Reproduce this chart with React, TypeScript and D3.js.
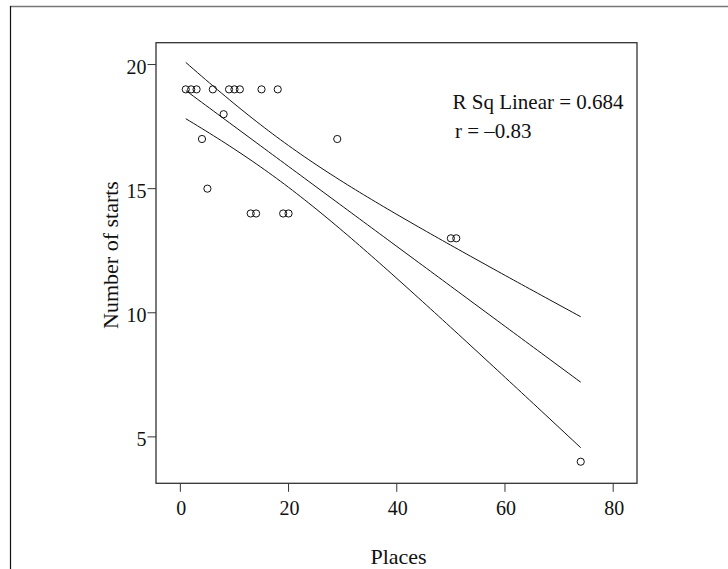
import React from "react";
import * as d3 from "d3";

const places = [1, 2, 3, 6, 9, 10, 11, 15, 18, 8, 4, 29, 5, 13, 14, 19, 20, 50, 51, 74];
const starts = [19, 19, 19, 19, 19, 19, 19, 19, 19, 18, 17, 17, 15, 14, 14, 14, 14, 13, 13, 4];
const xTicks = [0, 20, 40, 60, 80];
const yTicks = [5, 10, 15, 20];
const fitLabel = "R Sq Linear = 0.684";
const rLabel = "r = \u20130.83";
const xTitle = "Places";
const yTitle = "Number of starts";
const tCrit = 1.734; // 90% two-sided, df = 18

const W = 728;
const H = 569;
const FONT = "'Liberation Serif', 'Times New Roman', serif";

export default function App() {
  const x = d3.scaleLinear().domain([-4.5, 84.4]).range([156, 637]);
  const y = d3.scaleLinear().domain([3.13, 20.88]).range([483.3, 42.7]);

  const n = places.length;
  const mx = d3.mean(places) as number;
  const my = d3.mean(starts) as number;
  let sxx = 0, sxy = 0, syy = 0;
  for (let i = 0; i < n; i++) {
    sxx += (places[i] - mx) ** 2;
    sxy += (places[i] - mx) * (starts[i] - my);
    syy += (starts[i] - my) ** 2;
  }
  const b = sxy / sxx;
  const a = my - b * mx;
  const sse = syy - (sxy * sxy) / sxx;
  const s = Math.sqrt(sse / (n - 2));
  const xmin = d3.min(places) as number;
  const xmax = d3.max(places) as number;
  const xs = d3.range(0, 101).map((i) => xmin + ((xmax - xmin) * i) / 100);
  const fit = (v: number) => a + b * v;
  const half = (v: number) => tCrit * s * Math.sqrt(1 / n + (v - mx) ** 2 / sxx);

  const line = d3
    .line<number[]>()
    .x((d) => x(d[0]))
    .y((d) => y(d[1]));

  const mid = line(xs.map((v) => [v, fit(v)]))!;
  const up = line(xs.map((v) => [v, fit(v) + half(v)]))!;
  const lo = line(xs.map((v) => [v, fit(v) - half(v)]))!;

  const [x0, x1] = x.range();
  const [y0, y1] = y.range();

  return (
    <svg
      width={W}
      height={H}
      style={{ position: "absolute", left: 0, top: 0, background: "#fff" }}
      fontFamily={FONT}
    >
      <rect x={0} y={0} width={W} height={H} fill="#fff" />
      {/* outer frame */}
      <line x1={10} y1={6.5} x2={W} y2={6.5} stroke="#777" strokeWidth={1.5} />
      <line x1={10.5} y1={6} x2={10.5} y2={H} stroke="#111" strokeWidth={1.2} />

      {/* plot box */}
      <rect x={x0} y={y1} width={x1 - x0} height={y0 - y1} fill="none" stroke="#333" strokeWidth={1.3} />

      {/* x ticks */}
      {xTicks.map((t) => (
        <g key={"xt" + t}>
          <line x1={x(t)} x2={x(t)} y1={y0} y2={y0 + 8.5} stroke="#333" strokeWidth={1} />
          <text x={x(t) + 1} y={515} textAnchor="middle" fontSize={20} fill="#111">
            {t}
          </text>
        </g>
      ))}
      {/* y ticks */}
      {yTicks.map((t) => (
        <g key={"yt" + t}>
          <line x1={x0 - 8.5} x2={x0} y1={y(t)} y2={y(t)} stroke="#333" strokeWidth={1} />
          <text x={x0 - 9.5} y={y(t) + 9} textAnchor="end" fontSize={20} fill="#111">
            {t}
          </text>
        </g>
      ))}

      {/* fit lines */}
      <path d={up} fill="none" stroke="#111" strokeWidth={1} />
      <path d={mid} fill="none" stroke="#111" strokeWidth={1} />
      <path d={lo} fill="none" stroke="#111" strokeWidth={1} />

      {/* points */}
      {places.map((p, i) => (
        <circle key={i} cx={x(p)} cy={y(starts[i])} r={3.6} fill="none" stroke="#111" strokeWidth={1} />
      ))}

      {/* annotations */}
      <text x={452.5} y={109} fontSize={21} fill="#111">
        {fitLabel}
      </text>
      <text x={455} y={138} fontSize={21} fill="#111">
        {rLabel}
      </text>

      {/* axis titles */}
      <text x={(x0 + x1) / 2 + 2} y={564} textAnchor="middle" fontSize={22} fill="#111">
        {xTitle}
      </text>
      <text
        transform={`translate(118, 255) rotate(-90)`}
        textAnchor="middle"
        fontSize={22}
        fill="#111"
      >
        {yTitle}
      </text>
    </svg>
  );
}
